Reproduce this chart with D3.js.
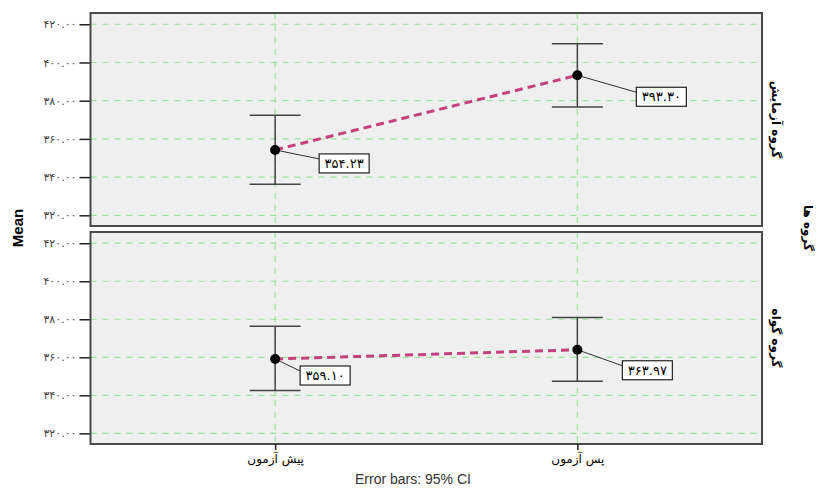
<!DOCTYPE html>
<html>
<head>
<meta charset="utf-8">
<script src="https://cdn.jsdelivr.net/npm/d3@7"></script>
<style>
  body { margin: 0; background: #fff; }
  svg { display: block; }
</style>
</head>
<body>
<div class="chart"></div>
<script>
// Data
var categories = ["پیش آزمون", "پس آزمون"];
var groups = ["گروه آزمایش", "گروه گواه"];
var facetTitle = "گروه ها";

var meanExp = [354.23, 393.30];
var lowerExp = [336.2, 376.7];
var upperExp = [372.4, 409.8];

var meanCtl = [359.10, 363.97];
var lowerCtl = [342.6, 347.4];
var upperCtl = [376.3, 380.9];

var yTicks = [320, 340, 360, 380, 400, 420];

// label box offsets from the point (layout only)
var labelOffsets = [
  [[44, 4], [59, 12]],
  [[25, 7], [45, 11]]
];

var svgWidth = 819;
var svgHeight = 489;
var panelLeft = 90.5;
var panelRight = 762;
var panelRows = [[13, 226], [232, 444]];

var svg = d3.select(".chart")
  .append("svg")
  .attr("width", svgWidth)
  .attr("height", svgHeight);

var xScale = d3.scalePoint()
  .domain(categories)
  .range([panelLeft, panelRight])
  .padding(0.611);

function toPersian(str) {
  return String(str).replace(/[0-9]/g, function(d) {
    return String.fromCharCode(0x06F0 + (+d));
  });
}

var series = [
  { name: groups[0], mean: meanExp, lower: lowerExp, upper: upperExp },
  { name: groups[1], mean: meanCtl, lower: lowerCtl, upper: upperCtl }
];

var arabicFont = "'DejaVu Sans', sans-serif";

series.forEach(function(s, i) {
  var top = panelRows[i][0];
  var bottom = panelRows[i][1];
  var yScale = d3.scaleLinear().domain([314.4, 425.9]).range([bottom, top]);

  var panel = svg.append("g");

  // Panel background
  panel.append("rect")
    .attr("x", panelLeft)
    .attr("y", top)
    .attr("width", panelRight - panelLeft)
    .attr("height", bottom - top)
    .attr("fill", "#efefef");

  // Horizontal gridlines
  panel.selectAll(".hgrid")
    .data(yTicks)
    .enter()
    .append("line")
    .attr("x1", panelLeft)
    .attr("x2", panelRight)
    .attr("y1", function(d) { return yScale(d); })
    .attr("y2", function(d) { return yScale(d); })
    .attr("stroke", "#9fe29f")
    .attr("stroke-width", 1.2)
    .attr("stroke-dasharray", "6,6");

  // Vertical gridlines
  panel.selectAll(".vgrid")
    .data(categories)
    .enter()
    .append("line")
    .attr("x1", function(d) { return xScale(d); })
    .attr("x2", function(d) { return xScale(d); })
    .attr("y1", top)
    .attr("y2", bottom)
    .attr("stroke", "#9fe29f")
    .attr("stroke-width", 1.2)
    .attr("stroke-dasharray", "6,6");

  // Y axis
  var leftAxis = d3.axisLeft(yScale)
    .tickValues(yTicks)
    .tickSize(11)
    .tickPadding(3)
    .tickFormat(function(d) { return toPersian(d3.format(".2f")(d)); });

  var yAxis = panel.append("g")
    .attr("transform", "translate(" + panelLeft + ",0)")
    .call(leftAxis);
  yAxis.select(".domain").remove();
  yAxis.selectAll(".tick line").attr("stroke", "#222").attr("stroke-width", 1.5);
  yAxis.selectAll(".tick text")
    .attr("font-family", arabicFont)
    .attr("font-size", 11)
    .attr("fill", "#444");

  // Error bars
  var capHalf = 25.5;
  var bars = panel.selectAll(".errbar")
    .data(categories)
    .enter()
    .append("g");

  bars.append("line")
    .attr("x1", function(d) { return xScale(d); })
    .attr("x2", function(d) { return xScale(d); })
    .attr("y1", function(d, j) { return yScale(s.upper[j]); })
    .attr("y2", function(d, j) { return yScale(s.lower[j]); })
    .attr("stroke", "#444")
    .attr("stroke-width", 1.5);

  bars.append("line")
    .attr("x1", function(d) { return xScale(d) - capHalf; })
    .attr("x2", function(d) { return xScale(d) + capHalf; })
    .attr("y1", function(d, j) { return yScale(s.upper[j]); })
    .attr("y2", function(d, j) { return yScale(s.upper[j]); })
    .attr("stroke", "#444")
    .attr("stroke-width", 1.5);

  bars.append("line")
    .attr("x1", function(d) { return xScale(d) - capHalf; })
    .attr("x2", function(d) { return xScale(d) + capHalf; })
    .attr("y1", function(d, j) { return yScale(s.lower[j]); })
    .attr("y2", function(d, j) { return yScale(s.lower[j]); })
    .attr("stroke", "#444")
    .attr("stroke-width", 1.5);

  // Mean line
  var line = d3.line()
    .x(function(d) { return xScale(d); })
    .y(function(d, j) { return yScale(s.mean[j]); });

  panel.append("path")
    .datum(categories)
    .attr("d", line)
    .attr("fill", "none")
    .attr("stroke", "#c4427c")
    .attr("stroke-width", 3)
    .attr("stroke-dasharray", "8,5");

  // Leader lines and value labels
  categories.forEach(function(c, j) {
    var px = xScale(c);
    var py = yScale(s.mean[j]);
    var bx = px + labelOffsets[i][j][0];
    var by = py + labelOffsets[i][j][1];
    var bw = 50;
    var bh = 19;

    panel.append("line")
      .attr("x1", px)
      .attr("y1", py)
      .attr("x2", bx)
      .attr("y2", by + 5)
      .attr("stroke", "#333")
      .attr("stroke-width", 1);

    panel.append("rect")
      .attr("x", bx)
      .attr("y", by)
      .attr("width", bw)
      .attr("height", bh)
      .attr("fill", "#fff")
      .attr("stroke", "#222")
      .attr("stroke-width", 1.2);

    panel.append("text")
      .attr("x", bx + bw / 2)
      .attr("y", by + bh / 2 + 4.5)
      .attr("text-anchor", "middle")
      .attr("font-family", arabicFont)
      .attr("font-size", 13)
      .attr("fill", "#000")
      .text(toPersian(d3.format(".2f")(s.mean[j])));

    panel.append("circle")
      .attr("cx", px)
      .attr("cy", py)
      .attr("r", 5)
      .attr("fill", "#000");
  });

  // Panel border
  panel.append("rect")
    .attr("x", panelLeft)
    .attr("y", top)
    .attr("width", panelRight - panelLeft)
    .attr("height", bottom - top)
    .attr("fill", "none")
    .attr("stroke", "#4a4a4a")
    .attr("stroke-width", 2);

  // Facet label on the right
  var midY = (top + bottom) / 2;
  svg.append("text")
    .attr("transform", "translate(772," + midY + ") rotate(90)")
    .attr("text-anchor", "middle")
    .attr("font-family", arabicFont)
    .attr("font-size", 12)
    .attr("font-weight", "bold")
    .attr("fill", "#000")
    .text(s.name);
});

// X axis ticks and labels
var bottomY = panelRows[1][1];
var bottomAxis = d3.axisBottom(xScale).tickSize(6).tickPadding(4);
var xAxis = svg.append("g")
  .attr("transform", "translate(0," + bottomY + ")")
  .call(bottomAxis);
xAxis.select(".domain").remove();
xAxis.selectAll(".tick line").attr("stroke", "#222").attr("stroke-width", 1.5);
xAxis.selectAll(".tick text")
  .attr("font-family", arabicFont)
  .attr("font-size", 12)
  .attr("fill", "#000");

// Facet title
svg.append("text")
  .attr("transform", "translate(804,228) rotate(90)")
  .attr("text-anchor", "middle")
  .attr("font-family", arabicFont)
  .attr("font-size", 12)
  .attr("font-weight", "bold")
  .attr("fill", "#000")
  .text(facetTitle);

// Y title
svg.append("text")
  .attr("transform", "translate(23,228) rotate(-90)")
  .attr("text-anchor", "middle")
  .attr("font-family", "'Liberation Sans', Arial, sans-serif")
  .attr("font-size", 15)
  .attr("font-weight", "bold")
  .attr("fill", "#000")
  .text("Mean");

// Footnote
svg.append("text")
  .attr("x", 413)
  .attr("y", 484)
  .attr("text-anchor", "middle")
  .attr("font-family", "'Liberation Sans', Arial, sans-serif")
  .attr("font-size", 14)
  .attr("fill", "#333")
  .text("Error bars: 95% CI");
</script>
</body>
</html>
